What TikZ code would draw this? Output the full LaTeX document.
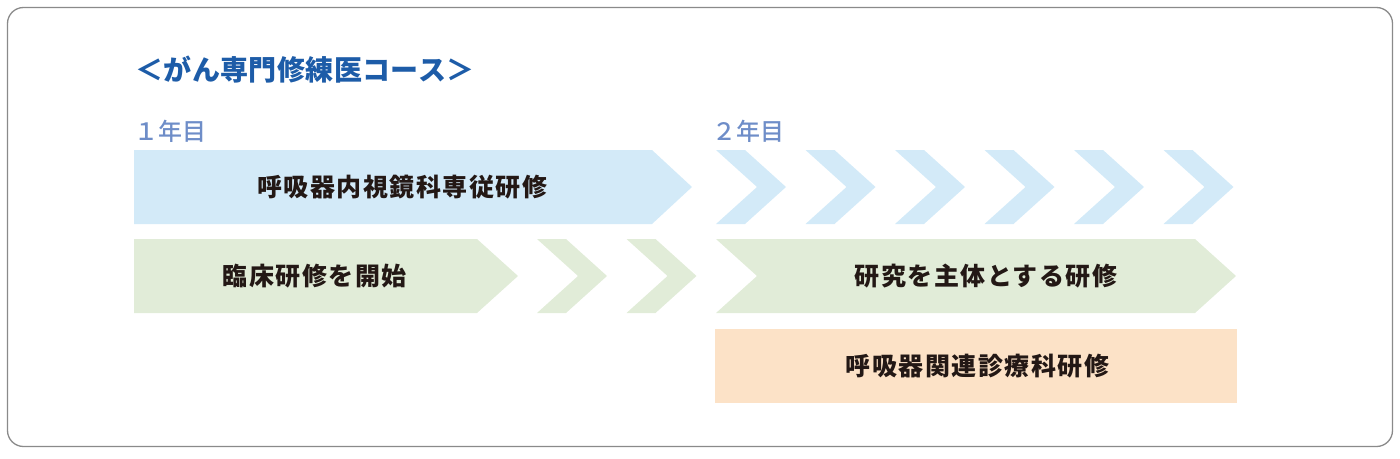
\documentclass[tikz,border=0pt]{standalone}
\usepackage{fontspec}
\newfontfamily\jp{Noto Sans CJK JP}
\newfontfamily\jpk{Noto Sans CJK JP Black}[LetterSpace=6]
\newfontfamily\jpt{Noto Sans CJK JP Black}[LetterSpace=1.5]
\newfontfamily\jpm{Noto Sans CJK JP Medium}
\definecolor{cFrame}{HTML}{8A8A8A}
\definecolor{cBlue}{HTML}{D3EAF8}
\definecolor{cGreen}{HTML}{E1ECD8}
\definecolor{cOrange}{HTML}{FCE2C7}
\definecolor{cTitle}{HTML}{1D5CA8}
\definecolor{cYear}{HTML}{6E8DC8}
\definecolor{cText}{HTML}{231815}
\begin{document}
\begin{tikzpicture}[x=1pt,y=-1pt,
  frame/.style={draw=cFrame,line width=1.3pt,rounded corners=16pt},
  titletext/.style={anchor=west,inner sep=0pt,text=cTitle,font=\jpt\fontsize{28}{32}\selectfont},
  yeartext/.style={anchor=west,inner sep=0pt,text=cYear,font=\jpm\fontsize{24}{28}\selectfont},
  label/.style={inner sep=0pt,text=cText,font=\jpk\fontsize{25}{28}\selectfont},
  chevron/.pic={\fill (0,-37) -- ++(29,0) -- ++(41,37) -- ++(-41,37) -- ++(-29,0) -- ++(41,-37) -- cycle;}
]
\useasboundingbox (0,0) rectangle (1400,458);
\draw[frame] (7.5,7.5) rectangle (1392.5,446.5);

% title and year labels
\node[titletext] (title) at (135,70) {＜がん専門修練医コース＞};
\node[yeartext] (y1) at (134,131) {１年目};
\node[yeartext] (y2) at (712,131) {２年目};

% blue row
\fill[cBlue] (134,150) -- (652,150) -- (692,187) -- (652,224) -- (134,224) -- cycle;
\foreach \i in {0,...,5}{
  \pic[cBlue] at ({716+89.5*\i},187) {chevron};
}
% green row
\fill[cGreen] (134,239) -- (477,239) -- (518,276) -- (477,313) -- (134,313) -- cycle;
\foreach \i in {0,1}{
  \pic[cGreen] at ({537+89.5*\i},276) {chevron};
}
\fill[cGreen] (716,239) -- (1195,239) -- (1236,276) -- (1195,313) -- (716,313) -- (757,276) -- cycle;
% orange box
\fill[cOrange] (715,329) rectangle (1237,403);

% labels
\node[label] (l1) at (402,187) {呼吸器内視鏡科専従研修};
\node[label] (l2) at (314.5,276) {臨床研修を開始};
\node[label] (l3) at (986,276) {研究を主体とする研修};
\node[label] (l4) at (977.5,366) {呼吸器関連診療科研修};
\end{tikzpicture}
\end{document}
